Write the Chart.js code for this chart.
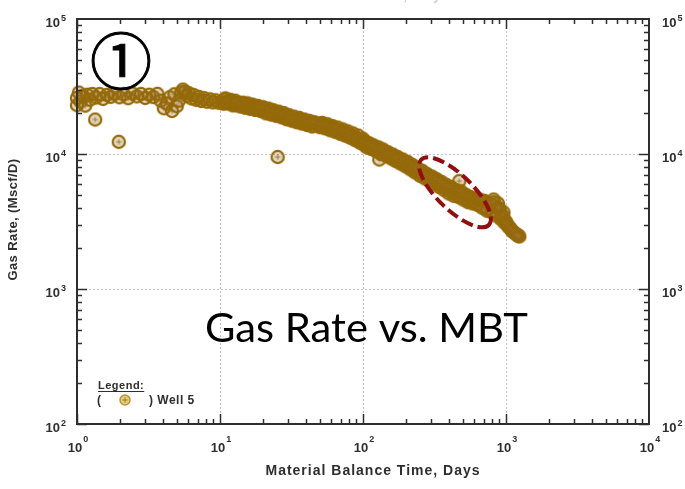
<!DOCTYPE html>
<html>
<head>
<meta charset="utf-8">
<script src="https://cdn.jsdelivr.net/npm/chart.js@4.4.1/dist/chart.umd.min.js"></script>
<style>
  html, body { margin: 0; padding: 0; background: #fff; }
  canvas { display: block; }
</style>
</head>
<body>
<canvas id="chart" width="685" height="489"></canvas>
<script>
// Well 5 production: material balance time (days) vs gas rate (Mscf/D)
const mbtDays = [
  1.00, 1.00, 1.03, 1.06, 1.10, 1.14, 1.18, 1.23, 1.28, 1.34, 1.36, 1.44, 1.52, 1.62, 1.72, 1.84,
  1.96, 1.98, 2.12, 2.28, 2.45, 2.62, 2.80, 3.00, 3.20, 3.42, 3.65, 3.85, 4.05, 4.25, 4.45, 4.62,
  4.80, 4.98, 5.15, 5.35, 5.50, 5.68, 5.85, 6.05, 6.30, 6.55, 6.80, 7.10, 7.40, 7.75, 8.10, 8.50,
  8.90, 9.30, 9.75,
  10.3, 10.7, 11.1, 11.6, 12.0, 12.5, 13.0, 13.5, 14.1, 14.7, 15.3, 15.9, 16.6, 17.3, 18.0, 18.8,
  19.6, 20.4, 21.3, 22.2, 23.1, 24.1, 25.3, 25.1, 26.2, 27.3, 28.5, 29.7, 30.9, 32.2, 33.6, 35.0,
  36.5, 38.0, 39.6, 41.3, 43.0, 44.8, 46.7, 48.7, 50.8, 52.9, 55.2, 57.5, 59.9, 62.4, 65.1, 67.8,
  70.7, 73.7, 76.8, 80.0, 83.4, 86.9, 90.6, 94.4, 98.4,
  10.5, 10.9, 11.4, 11.8, 12.3, 12.8, 13.3, 13.8, 14.4, 15.0, 15.6, 16.2, 16.9, 17.6, 18.4, 19.2,
  20.0, 20.9, 21.8, 22.7, 23.6, 24.6, 25.7, 26.8, 27.9, 29.1, 30.3, 31.6, 32.9, 34.3, 35.8, 37.3,
  38.8, 40.5, 42.1, 43.9, 45.7, 47.7, 49.7, 51.8, 54.0, 56.3, 58.7, 61.1, 63.7, 66.4, 69.2, 72.2,
  75.2, 78.4, 81.7, 85.1, 88.7, 92.5, 96.4, 99.5,
  101, 104, 108, 112, 116, 121, 126, 130, 131, 136, 141, 147, 153, 159, 165, 172,
  179, 186, 194, 202, 210, 218, 227, 236, 245, 255, 265, 276, 287, 298, 310, 322,
  335, 348, 362, 376, 391, 406, 422, 439, 456, 471, 474, 492, 511, 531, 552, 573,
  595, 618, 642, 667, 693, 720, 748, 777, 807, 820, 838, 870, 880, 900, 935, 960,
  990, 1020, 1060, 1100, 1150, 1200, 1240,
  102, 106, 110, 114, 118, 123, 128, 133, 138, 144, 150, 156, 162, 168, 175, 182,
  190, 198, 206, 214, 222, 231, 240, 250, 260, 270, 281, 292, 304, 316, 328, 341,
  355, 369, 383, 398, 414, 430, 447, 464, 483, 501, 521, 541, 562, 584, 606, 630,
  655, 680, 706, 734, 762, 792, 822, 853, 885, 918, 950, 975, 1005, 1040, 1080, 1120,
  1175, 1220
];
const gasRate = [
  26000, 23000, 28500, 24500, 26800, 22800, 27500, 25200, 27800, 18000, 26200, 27800, 25600, 27400, 26500, 27900,
  12300, 26300, 27600, 25900, 28000, 26700, 27800, 26000, 27500, 26400, 27900, 24800, 21800, 23600, 26300, 20800,
  27700, 22600, 24800, 28600, 30000, 29000, 27000, 28200, 25800, 27300, 25200, 26500, 24700, 25900, 24400, 25400,
  24100, 25000, 24000,
  24200, 25300, 23700, 24700, 23400, 24300, 23000, 23900, 22700, 23500, 22300, 23100, 21800, 22600, 21400, 22100,
  20900, 21600, 20400, 21100, 19900, 20500, 9500, 19400, 20000, 19000, 19500, 18200, 18800, 17800, 18300, 17400,
  17900, 17000, 17500, 16600, 17100, 16200, 16700, 16300, 16700, 15900, 16300, 15400, 15800, 15000, 15300, 14500,
  14800, 13900, 14300, 13400, 13700, 12800, 13100, 12200, 12500,
  23600, 25800, 24100, 25200, 22900, 24800, 23500, 22500, 24000, 22000, 23700, 21600, 23200, 21200, 22700, 20800,
  22200, 20000, 21700, 19600, 21100, 19200, 20600, 18700, 20100, 18100, 19400, 17700, 18900, 17200, 18500, 16800,
  18000, 16400, 17600, 16000, 17200, 16800, 15800, 17000, 15500, 16600, 15000, 16100, 14600, 15700, 14100, 15200,
  13700, 14700, 13200, 14200, 12700, 13700, 12100, 13000,
  11800, 12300, 11400, 11800, 11000, 11300, 10600, 9100, 10900, 10200, 10400, 9800, 10000, 9400, 9600, 9000,
  9200, 8600, 8800, 8200, 8400, 7800, 8000, 7400, 7600, 7100, 7200, 6800, 6900, 6500, 6600, 6200,
  6300, 5900, 6000, 5600, 5700, 5300, 5500, 5100, 5200, 6300, 4900, 5100, 4700, 4900, 4500, 4700,
  4400, 4600, 4300, 4500, 4100, 4400, 3900, 4200, 3800, 4600, 4100, 3600, 4300, 3900, 3400, 3700,
  3200, 3000, 2850, 2700, 2600, 2500, 2450,
  12500, 11200, 12000, 10900, 11600, 10500, 11200, 10000, 10800, 9700, 10300, 9300, 9900, 8900, 9500, 8500,
  9100, 8100, 8700, 7700, 8300, 7300, 7900, 6900, 7500, 6600, 7100, 6300, 6800, 6000, 6500, 5700,
  6200, 5400, 5900, 5100, 5700, 4900, 5400, 4800, 5300, 4600, 5000, 4400, 4800, 4300, 4700, 4200,
  4600, 4000, 4500, 3800, 4300, 3700, 4400, 3500, 4000, 3300, 3500, 3100, 3100, 2900, 2780, 2650,
  2550, 2480
];

// Decade ticks, labelled as 10 with a raised exponent
const xDecades = [1, 10, 100, 1000, 10000];
const xExponents = ['0', '1', '2', '3', '4'];
const yDecades = [100, 1000, 10000, 100000];
const yExponents = ['2', '3', '4', '5'];

const xTitle = 'Material Balance Time, Days';
const yTitle = 'Gas Rate, (Mscf/D)';
const legendHeading = 'Legend:';
const legendName = 'Well 5';
const noteText = 'Gas Rate vs. MBT';
const stepText = '\u2460';
const focusPoint = { x: 440, y: 5200 };   // centre of the dashed callout, data units

const BOLD = '"Liberation Sans", Arial, sans-serif';
const INK = '#2e2e2e';

function makeMarker(fill, ring, cross, r, ringWidth) {
  const c = document.createElement('canvas');
  c.width = 16; c.height = 16;
  const g = c.getContext('2d');
  g.beginPath();
  g.arc(8, 8, r, 0, Math.PI * 2);
  g.fillStyle = fill;
  g.fill();
  g.lineWidth = ringWidth;
  g.strokeStyle = ring;
  g.stroke();
  g.beginPath();
  g.moveTo(5.3, 8); g.lineTo(10.7, 8);
  g.moveTo(8, 5.3); g.lineTo(8, 10.7);
  g.lineWidth = 1;
  g.strokeStyle = cross;
  g.stroke();
  return c;
}
const wellMarker = makeMarker('rgba(150,105,15,0.28)', '#956a08', '#9a7a3c', 6.1, 2.2);
const legendMarker = makeMarker('#e5cf7e', '#b8962e', '#9c7a24', 5, 1.5);

function line(ctx, x1, y1, x2, y2) {
  ctx.beginPath(); ctx.moveTo(x1, y1); ctx.lineTo(x2, y2); ctx.stroke();
}

function drawPower(ctx, exp, x, y, expY, align) {
  ctx.font = 'bold 13px ' + BOLD;
  const w = ctx.measureText('10').width;
  let left = x;
  if (align === 'right') left = x - w;
  if (align === 'center') left = x - w / 2;
  ctx.textAlign = 'left';
  ctx.fillText('10', left, y);
  ctx.font = 'bold 9px ' + BOLD;
  ctx.fillText(exp, left + w + 1, expY);
}

// dotted decade grid underneath the points
const logGrid = {
  id: 'logGrid',
  beforeDatasetsDraw(chart) {
    const { ctx, chartArea: a, scales: { x, y } } = chart;
    ctx.save();
    ctx.strokeStyle = '#c2c2c2';
    ctx.lineWidth = 1;
    ctx.setLineDash([2, 2]);
    xDecades.slice(1, -1).forEach(d => {
      const px = Math.round(x.getPixelForValue(d)) + 0.5;
      line(ctx, px, a.top, px, a.bottom);
    });
    yDecades.slice(1, -1).forEach(d => {
      const py = Math.round(y.getPixelForValue(d)) + 0.5;
      line(ctx, a.left, py, a.right, py);
    });
    ctx.restore();
  }
};

// box, inward ticks on all four sides, tick labels and axis titles
const logFrame = {
  id: 'logFrame',
  afterDatasetsDraw(chart) {
    const { ctx, chartArea: a, scales: { x, y } } = chart;
    ctx.save();
    ctx.strokeStyle = INK;
    ctx.lineWidth = 1.5;
    for (let i = 0; i < xDecades.length - 1; i++) {
      for (let m = 1; m <= 9; m++) {
        const px = Math.round(x.getPixelForValue(xDecades[i] * m)) + 0.5;
        const len = m === 1 ? 10 : 5;
        line(ctx, px, a.bottom, px, a.bottom - len);
        line(ctx, px, a.top, px, a.top + len);
      }
    }
    for (let i = 0; i < yDecades.length - 1; i++) {
      for (let m = 1; m <= 9; m++) {
        const py = Math.round(y.getPixelForValue(yDecades[i] * m)) + 0.5;
        const len = m === 1 ? 10 : 5;
        line(ctx, a.left, py, a.left + len, py);
        line(ctx, a.right, py, a.right - len, py);
      }
    }
    ctx.lineWidth = 2;
    ctx.strokeRect(a.left, a.top, a.right - a.left, a.bottom - a.top);

    ctx.fillStyle = INK;
    ctx.textBaseline = 'alphabetic';
    xDecades.forEach((d, i) => {
      const px = x.getPixelForValue(d);
      drawPower(ctx, xExponents[i], px - 2, a.bottom + 28, a.bottom + 18, 'center');
    });
    yDecades.forEach((d, i) => {
      const py = y.getPixelForValue(d);
      drawPower(ctx, yExponents[i], a.left - 17, py + 8, py + 2, 'right');
      drawPower(ctx, yExponents[i], a.right + 13, py + 8, py + 2, 'left');
    });

    ctx.font = 'bold 14px ' + BOLD;
    ctx.letterSpacing = '1px';
    ctx.textAlign = 'center';
    ctx.fillText(xTitle, (a.left + a.right) / 2 + 10, a.bottom + 51);
    // the same title, mostly off the top edge
    ctx.fillStyle = '#d2d2d2';
    ctx.fillText(xTitle, (a.left + a.right) / 2 - 20, 0);
    ctx.fillStyle = INK;

    ctx.font = 'bold 13px ' + BOLD;
    ctx.letterSpacing = '0.4px';
    ctx.save();
    ctx.translate(17, (a.top + a.bottom) / 2 - 2);
    ctx.rotate(-Math.PI / 2);
    ctx.fillText(yTitle, 0, 0);
    ctx.restore();
    ctx.letterSpacing = '0px';

    // legend box in the lower left corner
    ctx.textAlign = 'left';
    ctx.font = 'bold 11px ' + BOLD;
    ctx.letterSpacing = '0.5px';
    const lx = a.left + 21;
    ctx.fillText(legendHeading, lx, 389);
    const hw = ctx.measureText(legendHeading).width;
    ctx.lineWidth = 1;
    line(ctx, lx, 391.5, lx + hw, 391.5);
    ctx.font = 'bold 12px ' + BOLD;
    ctx.fillText('(', lx - 1, 404);
    ctx.drawImage(legendMarker, lx + 19, 392);
    ctx.fillText(') ' + legendName, lx + 51, 404);
    ctx.letterSpacing = '0px';
    ctx.restore();
  }
};

// callouts drawn over the plot: step number, caption and dashed ellipse
const callouts = {
  id: 'callouts',
  afterDraw(chart) {
    const { ctx, scales: { x, y } } = chart;
    ctx.save();
    ctx.fillStyle = '#000';
    ctx.textAlign = 'left';
    ctx.textBaseline = 'alphabetic';
    ctx.font = '40px Lato, "Open Sans", sans-serif';
    const w = ctx.measureText(noteText).width;
    ctx.translate(205, 342);
    ctx.scale(323 / w, 1);
    ctx.fillText(noteText, 0, 0);
    ctx.restore();

    ctx.save();
    ctx.fillStyle = '#000';
    ctx.strokeStyle = '#000';
    ctx.lineWidth = 1;
    ctx.textAlign = 'center';
    ctx.textBaseline = 'middle';
    ctx.font = '62px "Noto Sans CJK JP", "DejaVu Sans", sans-serif';
    ctx.fillText(stepText, 121, 61);
    ctx.strokeText(stepText, 121, 61);
    ctx.restore();

    ctx.save();
    ctx.strokeStyle = '#930f0f';
    ctx.lineWidth = 4;
    ctx.setLineDash([12, 5]);
    ctx.beginPath();
    ctx.ellipse(x.getPixelForValue(focusPoint.x), y.getPixelForValue(focusPoint.y),
                47, 17.5, 44 * Math.PI / 180, 0, Math.PI * 2);
    ctx.stroke();
    ctx.restore();
  }
};

new Chart(document.getElementById('chart'), {
  type: 'scatter',
  data: {
    datasets: [{
      label: legendName,
      data: mbtDays.map((d, i) => ({ x: d, y: gasRate[i] })),
      pointStyle: wellMarker,
      pointRadius: 7,
      pointHoverRadius: 7,
      clip: false
    }]
  },
  options: {
    responsive: false,
    animation: false,
    devicePixelRatio: 1,
    layout: { padding: { left: 77, right: 36, top: 19, bottom: 65 } },
    scales: {
      x: { type: 'logarithmic', min: 1, max: 10000, display: false },
      y: { type: 'logarithmic', min: 100, max: 100000, display: false }
    },
    plugins: {
      legend: { display: false },
      tooltip: { enabled: false }
    }
  },
  plugins: [logGrid, logFrame, callouts]
});
</script>
</body>
</html>
